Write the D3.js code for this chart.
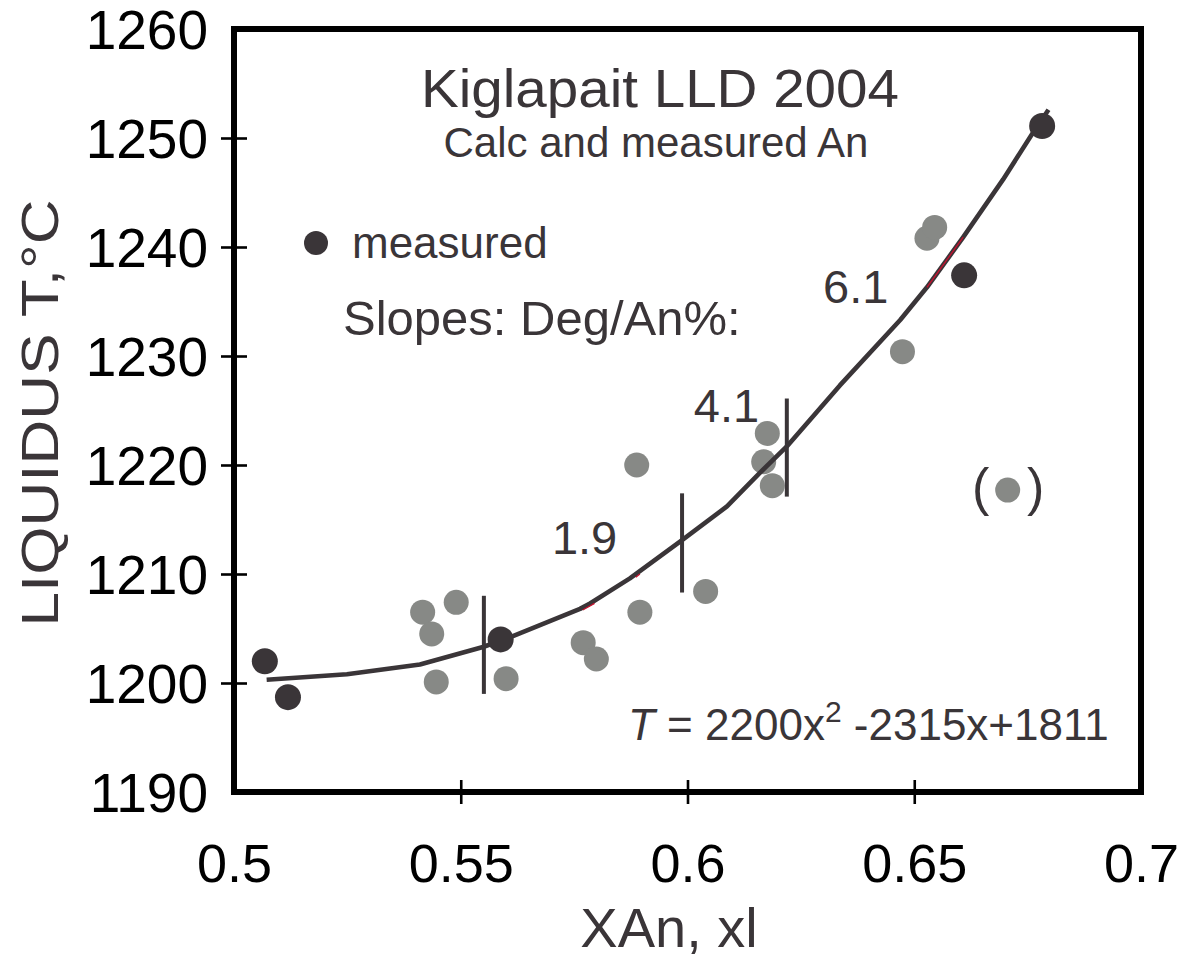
<!DOCTYPE html>
<html>
<head>
<meta charset="utf-8">
<script src="https://cdn.jsdelivr.net/npm/d3@7"></script>
<style>
  html, body { margin: 0; padding: 0; background: #ffffff; }
  svg { display: block; font-family: "Liberation Sans", Arial, Helvetica, sans-serif; }
</style>
</head>
<body>
<svg id="chart" width="1186" height="960"></svg>
<script>
// ---------- data ----------
const xTicks = [0.5, 0.55, 0.6, 0.65, 0.7];
const xTickLabels = ["0.5", "0.55", "0.6", "0.65", "0.7"];
const yTicks = [1190, 1200, 1210, 1220, 1230, 1240, 1250, 1260];
const yTickLabels = ["1190", "1200", "1210", "1220", "1230", "1240", "1250", "1260"];

// measured An (dark dots)
const measuredX = [0.5068, 0.5119, 0.5588, 0.6610, 0.6782];
const measuredT = [1202.0, 1198.7, 1204.0, 1237.4, 1251.1];

// calculated An (grey dots)
const calcX = [0.5416, 0.5436, 0.5490, 0.5446, 0.5600, 0.5770, 0.5799, 0.5888, 0.5895, 0.6040, 0.6176, 0.6168, 0.6187, 0.6474, 0.6528, 0.6545];
const calcT = [1206.5, 1204.5, 1207.4, 1200.1, 1200.4, 1203.7, 1202.2, 1220.0, 1206.5, 1208.4, 1222.9, 1220.3, 1218.1, 1230.4, 1240.8, 1241.8];

// parenthesised outlier
const outlierX = [0.6706];
const outlierT = [1217.7];

// fitted curve
const curveX = [0.5072, 0.5249, 0.5410, 0.5549, 0.5615, 0.5763, 0.5785, 0.5873, 0.5988, 0.6087, 0.6160, 0.6219, 0.6336, 0.6469, 0.6528, 0.6608, 0.6696, 0.6762, 0.6796];
const curveT = [1200.3, 1200.8, 1201.7, 1203.3, 1204.3, 1206.8, 1207.3, 1209.6, 1213.1, 1216.2, 1219.3, 1221.7, 1227.3, 1233.3, 1236.3, 1240.9, 1246.2, 1250.5, 1252.6];

// slope break markers
const markerX = [0.5551, 0.5988, 0.6219];
const markerT1 = [1199.0, 1208.3, 1217.1];
const markerT2 = [1208.0, 1217.4, 1226.1];

// slope labels (position of text start / baseline)
const slopeLabels = ["1.9", "4.1", "6.1"];
const slopeLabelX = [0.5701, 0.6014, 0.6299];
const slopeLabelT = [1211.8, 1223.9, 1234.9];

// small red artefacts on the curve
const redX1 = [0.5769, 0.5886, 0.6528];
const redT1 = [1206.7, 1209.7, 1236.3];
const redX2 = [0.5795, 0.5895, 0.6608];
const redT2 = [1207.3, 1210.0, 1240.9];

// ---------- layout ----------
const svg = d3.select("#chart");
const x = d3.scaleLinear().domain([0.5, 0.7]).range([234, 1141]);
const y = d3.scaleLinear().domain([1190, 1260]).range([792, 29]);

const dark = "#3a3538";
const grey = "#878986";
const fontMain = "'Liberation Sans', Arial, Helvetica, sans-serif";

// frame
svg.append("rect")
  .attr("x", x(0.5)).attr("y", y(1260))
  .attr("width", x(0.7) - x(0.5)).attr("height", y(1190) - y(1260))
  .attr("fill", "none").attr("stroke", "#000").attr("stroke-width", 6);

// y axis
const yAxis = d3.axisLeft(y).tickValues(yTicks)
  .tickFormat((d, i) => yTickLabels[i]).tickSize(0).tickPadding(26);
const gy = svg.append("g").attr("transform", `translate(${x(0.5)},0)`).call(yAxis);
gy.select(".domain").remove();
gy.selectAll(".tick text").attr("font-size", 55).attr("fill", "#000")
  .attr("font-family", fontMain).attr("dy", "0.36em");
gy.selectAll(".tick").filter(d => d > 1190 && d < 1260).append("line")
  .attr("x1", -13).attr("x2", 13).attr("stroke", "#000").attr("stroke-width", 2.6);

// x axis
const xAxis = d3.axisBottom(x).tickValues(xTicks)
  .tickFormat((d, i) => xTickLabels[i]).tickSize(0).tickPadding(0);
const gx = svg.append("g").attr("transform", `translate(0,${y(1190)})`).call(xAxis);
gx.select(".domain").remove();
gx.selectAll(".tick text").attr("font-size", 54).attr("fill", "#000")
  .attr("font-family", fontMain).attr("y", 90).attr("dy", 0);
gx.selectAll(".tick").filter(d => d > 0.5 && d < 0.7).append("line")
  .attr("y1", -12).attr("y2", 12).attr("stroke", "#000").attr("stroke-width", 2.6);

// axis titles
svg.append("text")
  .attr("transform", "translate(58,413) rotate(-90)")
  .attr("text-anchor", "middle").attr("font-size", 52).attr("fill", dark)
  .attr("textLength", 427).attr("lengthAdjust", "spacingAndGlyphs")
  .text("LIQUIDUS T,°C");
svg.append("text")
  .attr("x", 669).attr("y", 947).attr("text-anchor", "middle")
  .attr("font-size", 56).attr("fill", dark).text("XAn, xl");

// titles
svg.append("text").attr("x", 660).attr("y", 107).attr("text-anchor", "middle")
  .attr("font-size", 53).attr("fill", dark)
  .attr("textLength", 478).attr("lengthAdjust", "spacingAndGlyphs")
  .text("Kiglapait LLD 2004");
svg.append("text").attr("x", 656).attr("y", 157).attr("text-anchor", "middle")
  .attr("font-size", 42).attr("fill", dark)
  .text("Calc and measured An");

// legend
svg.append("circle").attr("cx", 316).attr("cy", 243).attr("r", 12).attr("fill", dark);
svg.append("text").attr("x", 352).attr("y", 258).attr("font-size", 44).attr("fill", dark).text("measured");
svg.append("text").attr("x", 343).attr("y", 335).attr("font-size", 49).attr("fill", dark).text("Slopes: Deg/An%:");

// grey calc points
svg.append("g").selectAll("circle").data(calcX.map((v, i) => [v, calcT[i]])).join("circle")
  .attr("cx", d => x(d[0])).attr("cy", d => y(d[1])).attr("r", 12.5).attr("fill", grey);

// outlier
svg.append("g").selectAll("circle").data(outlierX.map((v, i) => [v, outlierT[i]])).join("circle")
  .attr("cx", d => x(d[0])).attr("cy", d => y(d[1])).attr("r", 12.5).attr("fill", grey);
outlierX.forEach((v, i) => {
  svg.append("text").attr("x", x(v) - 27).attr("y", y(outlierT[i]) + 15)
    .attr("text-anchor", "middle").attr("font-size", 52).attr("fill", dark).text("(");
  svg.append("text").attr("x", x(v) + 28).attr("y", y(outlierT[i]) + 15)
    .attr("text-anchor", "middle").attr("font-size", 52).attr("fill", dark).text(")");
});

// curve
const line = d3.line().x(d => x(d[0])).y(d => y(d[1]));
svg.append("path").datum(curveX.map((v, i) => [v, curveT[i]]))
  .attr("d", line).attr("fill", "none").attr("stroke", dark)
  .attr("stroke-width", 4.6).attr("stroke-linejoin", "round");

// red artefacts
svg.append("g").selectAll("line").data(redX1.map((v, i) => i)).join("line")
  .attr("x1", i => x(redX1[i])).attr("y1", i => y(redT1[i]))
  .attr("x2", i => x(redX2[i])).attr("y2", i => y(redT2[i]))
  .attr("stroke", "#c8102e").attr("stroke-width", 1.3);

// measured points
svg.append("g").selectAll("circle").data(measuredX.map((v, i) => [v, measuredT[i]])).join("circle")
  .attr("cx", d => x(d[0])).attr("cy", d => y(d[1])).attr("r", 13).attr("fill", dark);

// slope break markers
svg.append("g").selectAll("line").data(markerX.map((v, i) => i)).join("line")
  .attr("x1", i => x(markerX[i])).attr("x2", i => x(markerX[i]))
  .attr("y1", i => y(markerT1[i])).attr("y2", i => y(markerT2[i]))
  .attr("stroke", dark).attr("stroke-width", 4);

// slope labels
svg.append("g").selectAll("text").data(slopeLabels).join("text")
  .attr("x", (d, i) => x(slopeLabelX[i])).attr("y", (d, i) => y(slopeLabelT[i]))
  .attr("font-size", 47).attr("fill", dark).text(d => d);

// equation
const eq = svg.append("text").attr("x", 628).attr("y", 740).attr("font-size", 44).attr("fill", dark);
eq.append("tspan").attr("font-style", "italic").text("T");
eq.append("tspan").text(" = 2200x");
eq.append("tspan").attr("font-size", 30).attr("dy", -18).text("2");
eq.append("tspan").attr("dy", 18).text(" -2315x+1811");
</script>
</body>
</html>
